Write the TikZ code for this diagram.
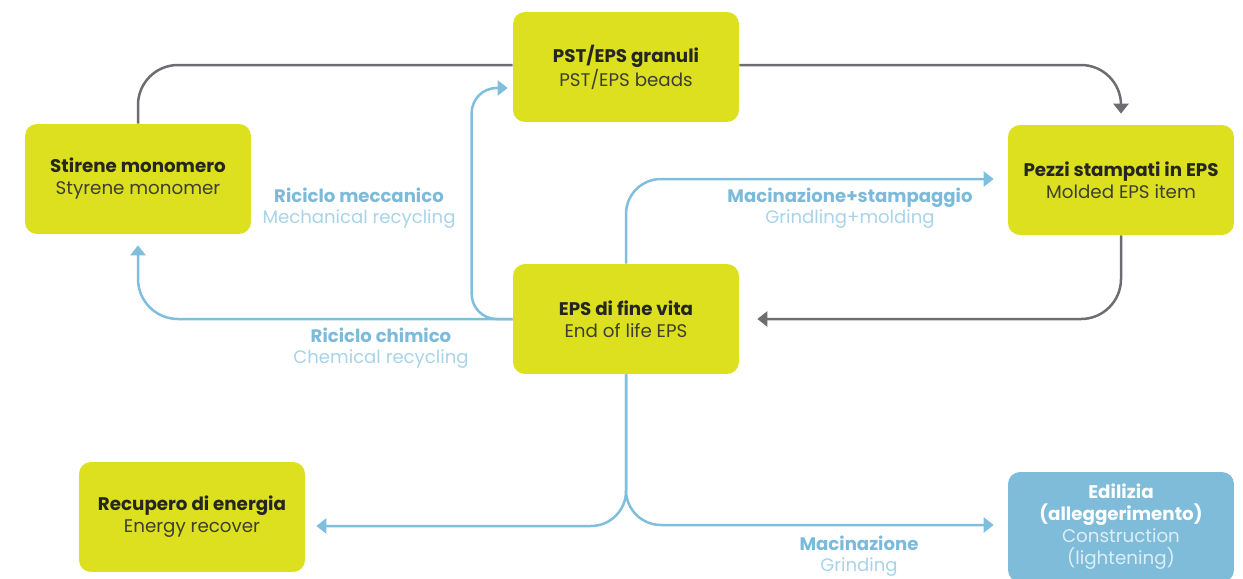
\documentclass[tikz,border=0pt]{standalone}
\usepackage{fontspec}
\setmainfont{Poppins}
\usetikzlibrary{arrows.meta}

\definecolor{lime}{RGB}{220,224,30}
\definecolor{skyblue}{RGB}{126,188,217}
\definecolor{flowblue}{RGB}{127,190,220}
\definecolor{flowgray}{RGB}{108,109,112}
\definecolor{lbldark}{RGB}{123,186,218}
\definecolor{lbllight}{RGB}{168,211,233}
\definecolor{txtdark}{RGB}{38,38,32}
\definecolor{txtsoft}{RGB}{62,62,50}
\definecolor{txtpale}{RGB}{222,238,246}

\tikzset{
  box/.style={fill=lime, rounded corners=0.24cm, minimum width=4.52cm,
    minimum height=2.2cm, align=center, text=txtsoft,
    font=\fontsize{10.4}{12.5}\selectfont},
  flowlbl/.style={align=center, text=lbldark, font=\fontsize{10.3}{12}\selectfont},
  grayflow/.style={draw=flowgray, line width=0.05cm},
  blueflow/.style={draw=flowblue, line width=0.05cm},
  tip/.style={-{Triangle[length=0.2cm, width=0.3cm]}}
}

\begin{document}
\begin{tikzpicture}[x=0.02cm, y=-0.02cm]
\useasboundingbox (0,0) rectangle (1243,578);

% boxes
\node[box] (stirene) at (138,179) {{\bfseries\color{txtdark}Stirene monomero}\\Styrene monomer};
\node[box] (granuli) at (626,67) {{\bfseries\color{txtdark}PST/EPS granuli}\\PST/EPS beads};
\node[box] (pezzi) at (1121,180) {{\bfseries\color{txtdark}Pezzi stampati in EPS}\\Molded EPS item};
\node[box] (fine) at (626,319) {{\bfseries\color{txtdark}EPS di fine vita}\\End of life EPS};
\node[box] (energia) at (192,517) {{\bfseries\color{txtdark}Recupero di energia}\\Energy recover};
\node[box, fill=skyblue, text=txtpale] (edilizia) at (1121,527)
  {{\bfseries\color{white}Edilizia}\\{\bfseries\color{white}(alleggerimento)}\\Construction\\(lightening)};

% gray flows
\draw[grayflow, rounded corners=0.8cm] (stirene.north) |- ([yshift=0.04cm]granuli.west);
\draw[grayflow, tip, rounded corners=0.8cm] ([yshift=0.04cm]granuli.east) -| ([yshift=0.22cm]pezzi.north);
\draw[grayflow, tip, rounded corners=0.8cm] (pezzi.south) |- ([xshift=0.36cm]fine.east);

% blue flows
\draw[blueflow, tip, rounded corners=0.8cm] (fine.west) -| ([yshift=-0.22cm]stirene.south);
\draw[blueflow, tip, rounded corners=0.5cm] (fine.west) -- ++(-41,0) |- ([xshift=-0.1cm,yshift=-0.42cm]granuli.west);
\draw[blueflow, tip, rounded corners=0.7cm] (fine.north) |- ([xshift=-0.28cm,yshift=0.02cm]pezzi.west);
\draw[blueflow, tip, rounded corners=0.7cm] (fine.south) |- ([xshift=0.22cm,yshift=-0.18cm]energia.east);
\draw[blueflow, tip, rounded corners=0.7cm] (fine.south) |- ([xshift=-0.28cm,yshift=0.04cm]edilizia.west);

% labels
\node[flowlbl] (meccanico) at (359,208) {\bfseries Riciclo meccanico\\{\mdseries\color{lbllight}Mechanical recycling}};
\node[flowlbl] (chimico) at (381,348) {\bfseries Riciclo chimico\\{\mdseries\color{lbllight}Chemical recycling}};
\node[flowlbl] (stampaggio) at (850,208) {\bfseries Macinazione+stampaggio\\{\mdseries\color{lbllight}Grindling+molding}};
\node[flowlbl] (macinazione) at (859,556) {\bfseries Macinazione\\{\mdseries\color{lbllight}Grinding}};
\end{tikzpicture}
\end{document}
